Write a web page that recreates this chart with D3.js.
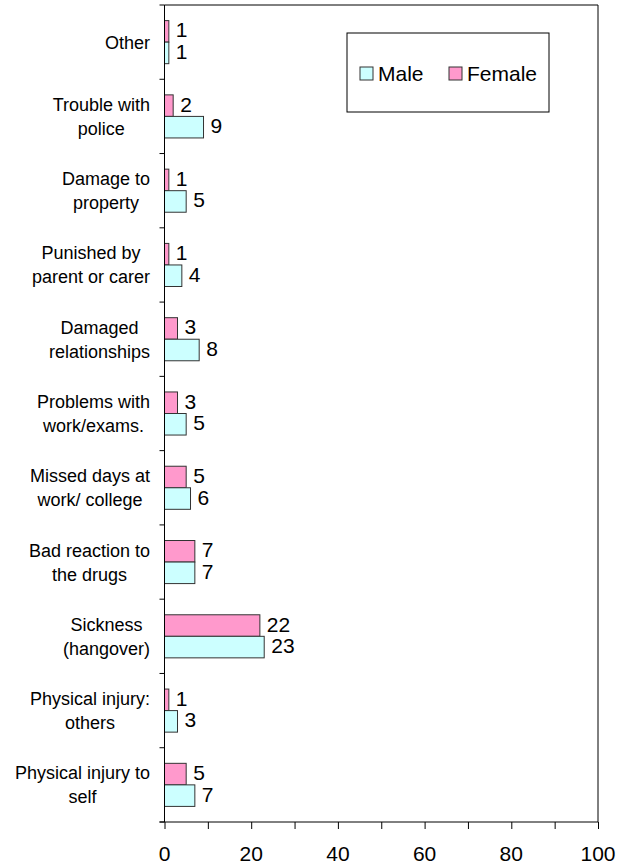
<!DOCTYPE html>
<html>
<head>
<meta charset="utf-8">
<script src="https://cdn.jsdelivr.net/npm/d3@7"></script>
<style>
  body { margin: 0; background: #ffffff; }
  svg { display: block; font-family: "Liberation Sans", Arial, sans-serif; }
</style>
</head>
<body>
<div id="my_dataviz"></div>
<script>
// categories top to bottom, "\n" marks where the label wraps
var categories = [
    "Other",
    "Trouble with\npolice",
    "Damage to\nproperty",
    "Punished by\nparent or carer",
    "Damaged\nrelationships",
    "Problems with\nwork/exams.",
    "Missed days at\nwork/ college",
    "Bad reaction to\nthe drugs",
    "Sickness\n(hangover)",
    "Physical injury:\nothers",
    "Physical injury to\nself"
];
var male = [1, 9, 5, 4, 8, 5, 6, 7, 23, 3, 7];
var female = [1, 2, 1, 1, 3, 3, 5, 7, 22, 1, 5];
var series = ["Male", "Female"];
var colors = ["#ccffff", "#ff99cc"];
var xTicks = [0, 20, 40, 60, 80, 100];

function draw_chart() {

    var width = 629, height = 867;
    var left = 164.5, right = 598, top = 5, bottom = 822;

    var svg = d3.select("#my_dataviz").append("svg")
        .attr("width", width)
        .attr("height", height)
        .style("background-color", "white");

    var x = d3.scaleLinear().domain([0, 100]).range([left, right]);
    var y = d3.scaleBand().domain(categories).range([top, bottom]).padding(0);
    var barH = y.bandwidth() * 0.29;
    // female sits above male inside each band
    var inner = d3.scaleBand().domain(["Female", "Male"]).range([-barH, barH]);

    var rows = categories.map(function(c, i) {
        return [
            {cat: c, key: "Female", value: female[i], color: colors[1]},
            {cat: c, key: "Male", value: male[i], color: colors[0]}
        ];
    }).flat();

    // frame (top and right)
    svg.append("path")
        .attr("d", "M" + left + "," + top + "H" + right + "V" + bottom)
        .attr("fill", "none")
        .attr("stroke", "#000")
        .attr("stroke-width", 1);

    // bars
    svg.append("g")
        .attr("class", "bars")
        .selectAll("rect")
        .data(rows)
        .enter()
        .append("rect")
        .attr("x", x(0))
        .attr("y", function(d) {
            return y(d.cat) + y.bandwidth() / 2 + inner(d.key);
        })
        .attr("width", function(d) {
            return x(d.value) - x(0);
        })
        .attr("height", inner.bandwidth())
        .attr("fill", function(d) { return d.color; })
        .attr("stroke", "#333")
        .attr("stroke-width", 1);

    // value labels
    svg.append("g")
        .attr("class", "values")
        .selectAll("text")
        .data(rows)
        .enter()
        .append("text")
        .attr("x", function(d) { return x(d.value) + 7; })
        .attr("y", function(d) {
            return y(d.cat) + y.bandwidth() / 2 + inner(d.key) + inner.bandwidth() / 2 + 6;
        })
        .style("font-size", "21px")
        .style("fill", "#000")
        .text(function(d) { return d.value; });

    // x axis
    var xAxis = d3.axisBottom(x)
        .tickValues(d3.range(0, 101, 10))
        .tickSize(7)
        .tickPadding(0)
        .tickFormat("");
    svg.append("g")
        .attr("transform", "translate(0," + bottom + ")")
        .call(xAxis)
        .call(function(g) { g.select(".domain").remove(); })
        .selectAll("line").attr("stroke", "#000");

    svg.append("line")
        .attr("x1", left - 5).attr("x2", right)
        .attr("y1", bottom).attr("y2", bottom)
        .attr("stroke", "#000");

    svg.append("g")
        .attr("class", "xlabels")
        .selectAll("text")
        .data(xTicks)
        .enter()
        .append("text")
        .attr("x", function(d) { return x(d); })
        .attr("y", 861)
        .style("text-anchor", "middle")
        .style("font-size", "21px")
        .text(function(d) { return d; });

    // y axis with ticks at band edges
    var edges = categories.map(function(c) { return y(c); }).concat([bottom]);
    svg.append("line")
        .attr("x1", left).attr("x2", left)
        .attr("y1", top).attr("y2", bottom)
        .attr("stroke", "#000");
    svg.append("g")
        .selectAll("line")
        .data(edges)
        .enter()
        .append("line")
        .attr("x1", left - 5).attr("x2", left)
        .attr("y1", function(d) { return d; })
        .attr("y2", function(d) { return d; })
        .attr("stroke", "#000");

    // category labels, lines centred within a block right-aligned at x=150
    var labels = svg.append("g").attr("class", "ylabels");
    categories.forEach(function(c) {
        var lines = c.split("\n");
        var cy = y(c) + y.bandwidth() / 2;
        var g = labels.append("g");
        var texts = g.selectAll("text")
            .data(lines)
            .enter()
            .append("text")
            .style("font-size", "18px")
            .style("fill", "#000")
            .style("text-anchor", "middle")
            .attr("y", function(d, i) {
                return cy + (i - (lines.length - 1) / 2) * 24 + 6.5;
            })
            .text(function(d) { return d; });
        var w = d3.max(texts.nodes(), function(n) { return n.getComputedTextLength(); });
        texts.attr("x", 150 - w / 2);
    });

    // legend
    var legend = svg.append("g").attr("class", "legend");
    legend.append("rect")
        .attr("x", 347).attr("y", 33)
        .attr("width", 202).attr("height", 79)
        .attr("fill", "white")
        .attr("stroke", "#000");
    var legendX = [360, 449];
    series.forEach(function(s, i) {
        legend.append("rect")
            .attr("x", legendX[i]).attr("y", 67)
            .attr("width", 13).attr("height", 13)
            .attr("fill", colors[i])
            .attr("stroke", "#333");
        legend.append("text")
            .attr("x", legendX[i] + 18).attr("y", 81)
            .style("font-size", "21px")
            .text(s);
    });
}

draw_chart();
</script>
</body>
</html>
